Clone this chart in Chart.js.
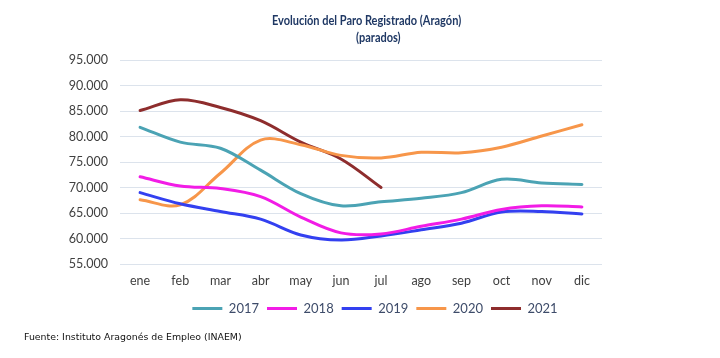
<!DOCTYPE html>
<html>
<head>
<meta charset="utf-8">
<script src="https://cdn.jsdelivr.net/npm/chart.js@4"></script>
<style>
  body { margin: 0; background: #fff; }
  #wrap { position: relative; width: 720px; height: 358px; }
  .title { position: absolute; font-family: Lato, sans-serif; font-weight: bold; font-size: 12.5px; color: #1F3864; white-space: nowrap; transform: scaleX(0.88); transform-origin: center; }
  #source { position: absolute; left: 24px; top: 331px; font-family: "DejaVu Sans", sans-serif; font-size: 9.4px; color: #111; white-space: nowrap; }
</style>
</head>
<body>
<div id="wrap">
  <canvas id="paroChart" width="720" height="358"></canvas>
  <div class="title" id="t1" style="top: 13px;">Evolución del Paro Registrado (Aragón)</div>
  <div class="title" id="t2" style="top: 30px;">(parados)</div>
  <div id="source">Fuente: Instituto Aragonés de Empleo (INAEM)</div>
</div>
<script>
const months = ['ene', 'feb', 'mar', 'abr', 'may', 'jun', 'jul', 'ago', 'sep', 'oct', 'nov', 'dic'];

const paro2017 = [81800, 78900, 77700, 73400, 68800, 66400, 67200, 67900, 69000, 71600, 70900, 70600];
const paro2018 = [72100, 70300, 69800, 68200, 64200, 61100, 60900, 62400, 63800, 65700, 66400, 66200];
const paro2019 = [69000, 66800, 65300, 63800, 60700, 59700, 60500, 61700, 63000, 65200, 65300, 64800];
const paro2020 = [67600, 66600, 72800, 79300, 78400, 76300, 75800, 76900, 76800, 77900, 80100, 82300];
const paro2021 = [85100, 87200, 85700, 83100, 78900, 75600, 70000];

// center the two title lines like the reference
function centerAt(id, cx) {
  const el = document.getElementById(id);
  el.style.left = (cx - el.offsetWidth / 2) + 'px';
}
centerAt('t1', 366);
centerAt('t2', 378);

function fmt(v) {
  return String(v).replace(/\B(?=(\d{3})+(?!\d))/g, '.');
}

function series(label, data, color) {
  return {
    label: label,
    data: data,
    borderColor: color,
    backgroundColor: color,
    borderWidth: 3,
    borderCapStyle: 'round',
    pointRadius: 0,
    tension: 0.35,
    fill: false
  };
}

new Chart(document.getElementById('paroChart'), {
  type: 'line',
  data: {
    labels: months,
    datasets: [
      series('2017', paro2017, '#4BA3B4'),
      series('2018', paro2018, '#F21CE6'),
      series('2019', paro2019, '#3340F0'),
      series('2020', paro2020, '#F7964A'),
      series('2021', paro2021, '#8E2D2D')
    ]
  },
  options: {
    responsive: false,
    animation: false,
    layout: { padding: { left: 30, right: 0, top: 60, bottom: 33 } },
    plugins: {
      title: { display: false },
      tooltip: { enabled: false },
      legend: {
        position: 'bottom',
        labels: {
          usePointStyle: true,
          pointStyle: 'line',
          pointStyleWidth: 30,
          padding: 8,
          color: '#3E4C6A',
          font: { family: 'Lato', size: 13 }
        }
      }
    },
    scales: {
      x: {
        offset: true,
        afterFit: s => { s.height += 5; },
        grid: { display: false },
        border: { display: false },
        ticks: { color: '#404040', padding: 1, font: { family: 'Lato', size: 12.5 } }
      },
      y: {
        min: 55000,
        max: 95000,
        afterFit: s => { s.width = 90; },
        grid: { color: '#DCE3EC', drawTicks: false },
        border: { display: false },
        ticks: {
          stepSize: 5000,
          padding: 12,
          color: '#404040',
          font: { family: 'Lato', size: 12.5 },
          callback: v => fmt(v)
        }
      },
      yRight: {
        position: 'right',
        min: 55000,
        max: 95000,
        afterFit: s => { s.width = 118; },
        grid: { display: false },
        border: { display: false },
        ticks: { display: false }
      }
    }
  }
});
</script>
</body>
</html>
